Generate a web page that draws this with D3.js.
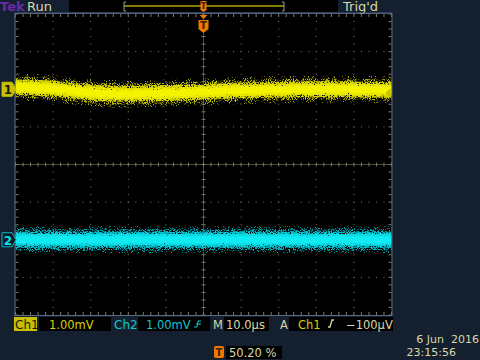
<!DOCTYPE html>
<html><head><meta charset="utf-8">
<script src="https://cdn.jsdelivr.net/npm/d3@7"></script>
<style>
html,body{margin:0;padding:0;background:#14202f;}
svg{display:block;}
text{font-family:"DejaVu Sans",sans-serif;}
</style></head>
<body>
<svg id="c" width="480" height="360"></svg>
<script>
// ---- data ----
const timeUs = [-50,-45,-40,-35,-30,-25,-20,-15,-10,-5,0,5,10,15,20,25,30,35,40,45,50];
const ch1mV  = [0.05,0.05,0.02,-0.04,-0.09,-0.12,-0.13,-0.11,-0.1,-0.09,-0.07,-0.05,-0.03,-0.02,-0.02,0,0,0,0,-0.01,-0.02];
const ch2mV  = [0,0,0,0,0,0,0,0,0,0,0,0,0,0,0,0,0,0,0,0,0];
const ch1Spread = [0.36,0.28,0.21,0.15,0.09];   // noise envelope half-widths, mV
const ch2Spread = [0.36,0.28,0.21,0.15,0.09];
const ch1Pos = 2, ch2Pos = -2;      // divisions
const voltsPerDiv = 1.0;            // mV/div
const timeTicks = [-50,-40,-30,-20,-10,0,10,20,30,40,50];
const divTicks = [-4,-3,-2,-1,0,1,2,3,4];
const labels = {ch1:"1.00mV", ch2:"1.00mV", time:"10.0µs", trig:"−100µV", pos:"50.20 %", date:"6 Jun  2016", clock:"23:15:56"};

const svg = d3.select("#c");
const L=15.5, R=391.5, T=14, B=315;
const x = d3.scaleLinear().domain([-50,50]).range([L,R]);
const y = d3.scaleLinear().domain([-4,4]).range([B,T]);

const defs = svg.append("defs");
const dens = [-6.0,-5.0,-4.0,-2.8];
dens.forEach((off,i)=>{
  const f = defs.append("filter").attr("id","sp"+i).attr("x","0").attr("y","-50%").attr("width","100%").attr("height","200%");
  f.append("feTurbulence").attr("type","fractalNoise").attr("baseFrequency","0.95").attr("numOctaves",2).attr("seed",3+i*5).attr("result","n");
  f.append("feColorMatrix").attr("in","n").attr("type","matrix")
   .attr("values",`0 0 0 0 0  0 0 0 0 0  0 0 0 0 0  0 0 0 10 ${off}`).attr("result","m");
  f.append("feComposite").attr("in","SourceGraphic").attr("in2","m").attr("operator","in");
});

// background plot
svg.append("rect").attr("x",L).attr("y",T).attr("width",R-L).attr("height",B-T).attr("fill","#000");

// grid
const gcol="#7c7c66";
const g = svg.append("g");
const sub = d3.range(-4,4.001,0.2);
const subX = d3.range(-50,50.001,2);
timeTicks.forEach(t=>{
  if(t===-50||t===50) return;
  sub.forEach(d=>{
    if(t===0){ g.append("line").attr("x1",x(t)-2).attr("x2",x(t)+2).attr("y1",y(d)).attr("y2",y(d)).attr("stroke",gcol); }
    else g.append("rect").attr("x",x(t)-0.5).attr("y",y(d)-0.5).attr("width",1).attr("height",1).attr("fill",gcol);
  });
});
divTicks.forEach(v=>{
  if(v===-4||v===4) return;
  subX.forEach(t=>{
    if(v===0){ g.append("line").attr("x1",x(t)).attr("x2",x(t)).attr("y1",y(v)-2).attr("y2",y(v)+2).attr("stroke",gcol); }
    else g.append("rect").attr("x",x(t)-0.5).attr("y",y(v)-0.5).attr("width",1).attr("height",1).attr("fill",gcol);
  });
});
g.append("line").attr("x1",x(0)).attr("x2",x(0)).attr("y1",T).attr("y2",B).attr("stroke",gcol).attr("stroke-width",0.6);
g.append("line").attr("x1",L).attr("x2",R).attr("y1",y(0)).attr("y2",y(0)).attr("stroke",gcol).attr("stroke-width",0.6);
// edge ticks
subX.forEach(t=>{
  g.append("line").attr("x1",x(t)).attr("x2",x(t)).attr("y1",T).attr("y2",T+3).attr("stroke",gcol);
  g.append("line").attr("x1",x(t)).attr("x2",x(t)).attr("y1",B-3).attr("y2",B).attr("stroke",gcol);
});
sub.forEach(d=>{
  g.append("line").attr("x1",L).attr("x2",L+3).attr("y1",y(d)).attr("y2",y(d)).attr("stroke",gcol);
  g.append("line").attr("x1",R-3).attr("x2",R).attr("y1",y(d)).attr("y2",y(d)).attr("stroke",gcol);
});

// traces
function trace(vals,pos,spread,cols,core){
  const data = timeUs.map((t,i)=>({t,v:pos+vals[i]/voltsPerDiv}));
  const area = w=>d3.area().x(d=>x(d.t)).y0(d=>y(d.v-w)).y1(d=>y(d.v+w)).curve(d3.curveBasis);
  spread.forEach((w,i)=>{
    const p = svg.append("path").datum(data).attr("d",area(w));
    if(i<dens.length) p.attr("fill",cols[i]).attr("filter",`url(#sp${i})`);
    else p.attr("fill",core);
  });
}
trace(ch1mV,ch1Pos,ch1Spread,["#a8a800","#c0c000","#d8d800","#e8e800"],"#f4f400");
trace(ch2mV,ch2Pos,ch2Spread,["#0098a4","#00b0bc","#00c8d4","#08dce6"],"#10eaf2");

// border
svg.append("rect").attr("x",L-0.5).attr("y",T-0.5).attr("width",R-L+1).attr("height",B-T+1).attr("fill","none").attr("stroke","#5a6a80").attr("stroke-width",1);

// channel markers
function marker(yy,txt,fill,stroke,tc){
  const p=`M2,${yy-7}L12,${yy-7}L16,${yy}L12,${yy+7}L2,${yy+7}Z`;
  svg.append("path").attr("d",p).attr("fill",fill).attr("stroke",stroke).attr("stroke-width",1);
  svg.append("text").attr("x",8).attr("y",yy+5).attr("text-anchor","middle").attr("font-size",12).attr("font-weight","bold").attr("fill",tc).text(txt);
}
marker(y(ch1Pos),"1","#c8c000","#c8c000","#1a1a00");
marker(y(ch2Pos),"2","#0a1a24","#00c0c8","#10e0e8");
// trigger level marker
const ty=y(ch1Pos+(-0.1)/voltsPerDiv);
svg.append("path").attr("d",`M${R-1},${ty-5}L${R-6},${ty}L${R-1},${ty+5}Z`).attr("fill","#c8c000");

// top bar
svg.append("text").attr("x",0).attr("y",11).attr("font-size",13).attr("font-weight","bold").attr("fill","#6a2aa8").text("Tek");
svg.append("text").attr("x",27).attr("y",11).attr("font-size",13).attr("fill","#d8d8a8").text("Run");
svg.append("rect").attr("x",69).attr("y",0).attr("width",269).attr("height",12).attr("fill","#000");
svg.append("line").attr("x1",124).attr("x2",284).attr("y1",6).attr("y2",6).attr("stroke","#b0a800").attr("stroke-width",1.3);
svg.append("path").attr("d","M126,2L124,2L124,11L126,11").attr("fill","none").attr("stroke","#9a9a80");
svg.append("path").attr("d","M282,2L284,2L284,11L282,11").attr("fill","none").attr("stroke","#9a9a80");
svg.append("text").attr("x",343).attr("y",11).attr("font-size",13).attr("fill","#d8d8a8").text("Trig'd");
svg.append("line").attr("x1",15).attr("x2",392).attr("y1",13).attr("y2",13).attr("stroke","#4a5a78").attr("stroke-width",1);
// trigger position icons
const tx=x(0);
svg.append("path").attr("d",`M${tx-3},1L${tx+3},1L${tx+3},10L${tx},12L${tx-3},10Z`).attr("fill","#f07800");
svg.append("text").attr("x",tx).attr("y",9).attr("text-anchor","middle").attr("font-size",8).attr("font-weight","bold").attr("fill","#402000").text("T");
svg.append("path").attr("d",`M${tx-4},15L${tx+4},15L${tx},19Z`).attr("fill","#f07800");
svg.append("path").attr("d",`M${tx-5},20L${tx+5},20L${tx+5},29L${tx},33L${tx-5},29Z`).attr("fill","#f07800");
svg.append("text").attr("x",tx).attr("y",29).attr("text-anchor","middle").attr("font-size",10).attr("font-weight","bold").attr("fill","#402000").text("T");

// bottom readouts
const fy=329, fs=11.5;
svg.append("rect").attr("x",14).attr("y",317).attr("width",23).attr("height",14).attr("fill","#c8c000");
svg.append("text").attr("x",15).attr("y",fy).attr("font-size",12).attr("fill","#1a1a00").text("Ch1");
svg.append("rect").attr("x",39).attr("y",317).attr("width",72).attr("height",14).attr("fill","#000");
svg.append("text").attr("x",49).attr("y",fy).attr("font-size",fs).attr("fill","#d8d000").text(labels.ch1);
svg.append("text").attr("x",114).attr("y",fy).attr("font-size",12).attr("fill","#10c8d0").text("Ch2");
svg.append("rect").attr("x",138).attr("y",317).attr("width",72).attr("height",14).attr("fill","#000");
svg.append("text").attr("x",146).attr("y",fy).attr("font-size",fs).attr("fill","#10c8d0").text(labels.ch2);
svg.append("path").attr("d","M194,327L197,327L198,321L201,321M196,324L201,324").attr("fill","none").attr("stroke","#10c8d0").attr("stroke-width",1);
svg.append("text").attr("x",213).attr("y",fy).attr("font-size",fs).attr("fill","#d8d8a8").text("M");
svg.append("rect").attr("x",224).attr("y",317).attr("width",45).attr("height",14).attr("fill","#000");
svg.append("text").attr("x",226).attr("y",fy).attr("font-size",fs).attr("fill","#d8d8a8").text(labels.time);
svg.append("text").attr("x",280).attr("y",fy).attr("font-size",fs).attr("fill","#d8d8a8").text("A");
svg.append("rect").attr("x",289).attr("y",317).attr("width",104).attr("height",14).attr("fill","#000");
svg.append("text").attr("x",298).attr("y",fy).attr("font-size",fs).attr("fill","#d8d000").text("Ch1");
svg.append("path").attr("d","M328,327L330,327L332,320L334,320").attr("fill","none").attr("stroke","#d8d8a8").attr("stroke-width",1.3);
svg.append("text").attr("x",346).attr("y",fy).attr("font-size",fs).attr("fill","#d8d8a8").text(labels.trig);

// trigger position readout
svg.append("rect").attr("x",214).attr("y",346).attr("width",10).attr("height",12).attr("rx",2).attr("fill","#f07800");
svg.append("text").attr("x",219).attr("y",356).attr("text-anchor","middle").attr("font-size",10).attr("font-weight","bold").attr("fill","#402000").text("T");
svg.append("rect").attr("x",226).attr("y",346).attr("width",56).attr("height",13).attr("fill","#000");
svg.append("text").attr("x",229).attr("y",357).attr("font-size",fs).attr("fill","#d8d8a8").text(labels.pos);
svg.append("text").attr("x",479).attr("y",343).attr("text-anchor","end").attr("font-size",11).attr("fill","#d8d8a8").attr("xml:space","preserve").text(labels.date);
svg.append("text").attr("x",456).attr("y",356).attr("text-anchor","end").attr("font-size",11).attr("fill","#d8d8a8").text(labels.clock);
</script>
</body></html>
